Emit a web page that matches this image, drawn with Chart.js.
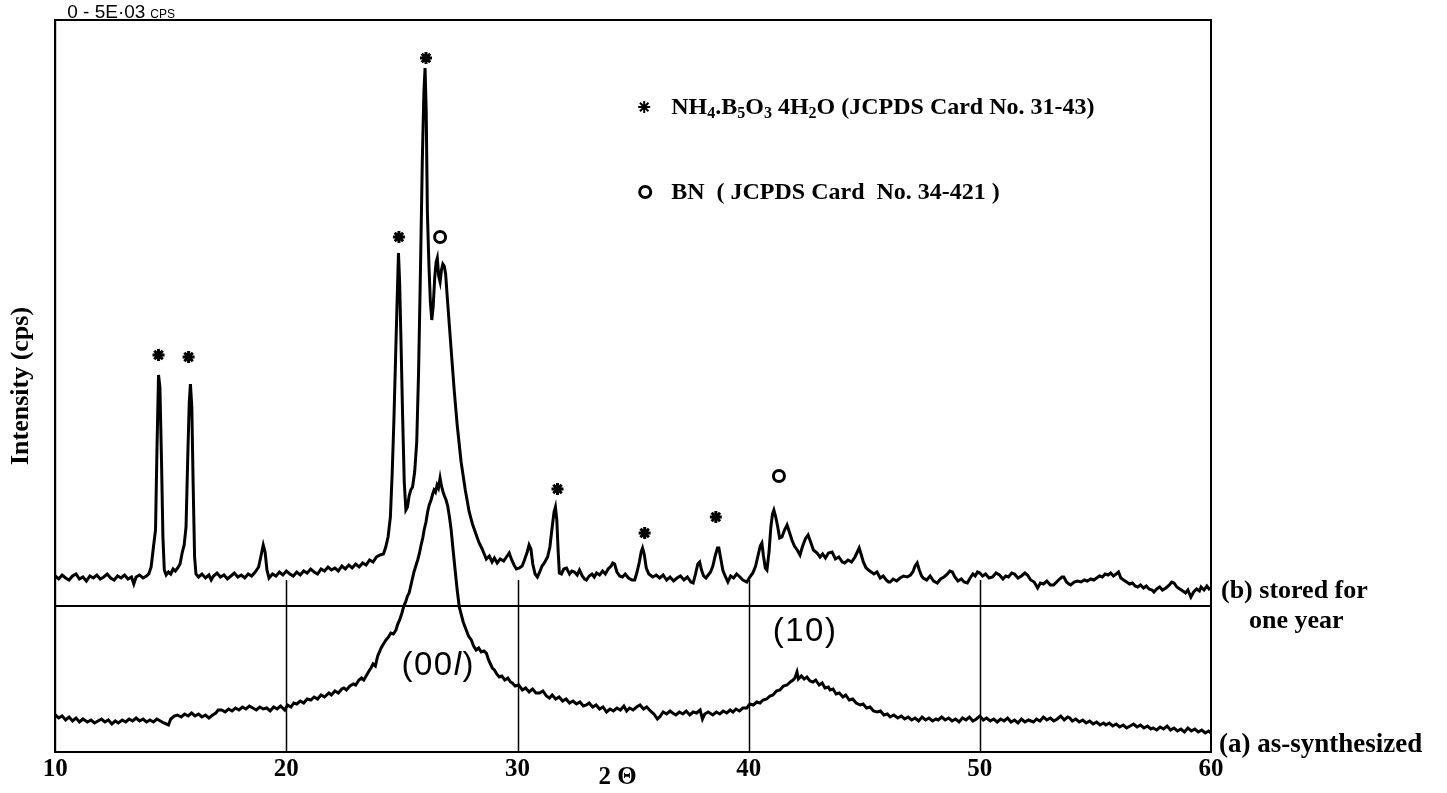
<!DOCTYPE html>
<html>
<head>
<meta charset="utf-8">
<script src="https://cdn.jsdelivr.net/npm/chart.js@4.4.1/dist/chart.umd.min.js"></script>
<style>
  html, body { margin: 0; padding: 0; background: #fff; }
  #wrap { width: 1447px; height: 793px; position: relative; }
</style>
</head>
<body>
<div id="wrap"><canvas id="xrdChart"></canvas></div>
<script>
// 2-theta tick labels
const xTickValues = [10, 20, 30, 40, 50, 60];

// (b) stored for one year : [2theta, counts (arb. units, offset trace)]
const bTheta = [10.00,10.15,10.30,10.45,10.60,10.75,10.90,11.05,11.20,11.35,11.50,11.65,11.80,11.95,12.10,12.25,12.40,12.55,12.70,12.85,
  13.00,13.15,13.30,13.40,13.50,13.65,13.80,13.95,14.05,14.15,14.25,14.34,14.40,14.47,14.53,14.60,14.66,14.72,14.80,14.90,
  15.00,15.10,15.20,15.30,15.40,15.50,15.58,15.66,15.74,15.80,15.85,15.91,15.97,16.03,16.09,16.20,16.35,16.50,16.65,16.75,
  16.85,17.00,17.15,17.30,17.45,17.60,17.75,17.90,18.05,18.20,18.35,18.50,18.65,18.80,18.92,19.00,19.08,19.16,19.25,19.40,
  19.55,19.70,19.85,20.00,20.15,20.30,20.45,20.60,20.75,20.90,21.05,21.20,21.35,21.50,21.65,21.80,21.95,22.10,22.25,22.40,
  22.55,22.70,22.85,23.00,23.15,23.30,23.45,23.60,23.75,23.90,24.05,24.20,24.30,24.40,24.50,24.58,24.65,24.72,24.79,24.85,
  24.90,24.96,25.03,25.10,25.17,25.24,25.31,25.38,25.46,25.55,25.64,25.72,25.80,25.88,25.95,26.00,26.05,26.10,26.17,26.23,
  26.29,26.35,26.42,26.48,26.53,26.59,26.65,26.71,26.77,26.83,26.89,26.96,27.04,27.13,27.26,27.39,27.56,27.74,27.91,28.05,
  28.20,28.34,28.45,28.56,28.65,28.78,28.90,29.00,29.12,29.25,29.40,29.52,29.64,29.75,29.85,29.95,30.08,30.20,30.30,30.42,
  30.50,30.58,30.66,30.76,30.86,30.96,31.06,31.16,31.30,31.40,31.50,31.58,31.64,31.70,31.76,31.81,31.90,32.00,32.12,32.25,
  32.35,32.46,32.58,32.68,32.80,32.90,32.98,33.10,33.22,33.32,33.42,33.55,33.68,33.80,33.92,34.05,34.12,34.20,34.30,34.42,
  34.54,34.66,34.80,34.95,35.07,35.17,35.27,35.35,35.41,35.48,35.57,35.68,35.85,36.00,36.15,36.30,36.45,36.60,36.75,36.90,
  37.05,37.20,37.35,37.50,37.60,37.70,37.80,37.88,37.96,38.05,38.15,38.25,38.35,38.45,38.55,38.65,38.71,38.78,38.88,38.98,
  39.10,39.22,39.35,39.48,39.62,39.75,39.92,40.05,40.18,40.30,40.42,40.50,40.57,40.64,40.72,40.79,40.88,40.96,41.03,41.09,
  41.16,41.25,41.34,41.44,41.55,41.66,41.76,41.87,41.98,42.10,42.22,42.32,42.45,42.57,42.68,42.80,42.96,43.09,43.20,43.32,
  43.45,43.61,43.75,43.90,44.05,44.15,44.30,44.45,44.60,44.70,44.78,44.86,44.96,45.08,45.18,45.30,45.42,45.55,45.69,45.82,
  45.95,46.05,46.12,46.25,46.40,46.55,46.70,46.86,47.00,47.10,47.20,47.29,47.38,47.48,47.55,47.70,47.85,48.00,48.16,48.30,
  48.45,48.60,48.70,48.81,48.92,49.05,49.20,49.32,49.46,49.58,49.70,49.80,49.90,50.00,50.12,50.25,50.40,50.55,50.70,50.85,
  51.00,51.12,51.24,51.38,51.50,51.65,51.80,51.95,52.06,52.20,52.35,52.50,52.62,52.75,52.90,53.05,53.19,53.32,53.45,53.55,
  53.63,53.75,53.85,53.93,54.08,54.22,54.38,54.52,54.65,54.80,54.93,55.05,55.18,55.30,55.42,55.55,55.66,55.78,55.90,56.00,
  56.10,56.22,56.35,56.48,56.60,56.72,56.83,56.95,57.08,57.20,57.32,57.45,57.53,57.65,57.78,57.90,58.05,58.20,58.30,58.40,
  58.52,58.65,58.78,58.90,59.00,59.13,59.25,59.38,59.50,59.57,59.70,59.82,59.92,60.00];
const bCounts = [176,173,177,174,172,176,178,173,175,171,176,174,177,173,175,178,174,172,176,174,
  177,173,175,168,175,177,174,176,178,185,205,222,300,377,365,290,215,182,177,180,
  178,183,181,184,188,200,207,225,300,350,368,345,265,195,178,175,178,174,177,172,
  176,179,175,177,173,176,179,175,177,174,178,176,180,185,198,207,200,182,174,178,
  176,180,177,181,178,176,180,177,181,179,183,180,178,183,181,185,182,184,181,186,
  183,187,184,188,185,189,187,192,190,195,197,198,205,215,235,280,330,390,450,499,
  470,410,335,270,242,245,256,262,265,280,310,380,480,590,660,684,640,540,485,450,
  432,445,475,490,494,476,470,482,488,486,478,455,430,402,362,327,290,262,240,228,
  218,209,204,198,193,196,190,194,189,193,191,195,199,192,187,183,184,186,192,200,
  207,203,188,178,175,180,186,189,195,205,225,240,245,232,200,179,178,183,184,178,
  181,180,177,182,176,173,172,176,178,175,179,177,181,178,183,186,189,188,180,176,
  175,178,174,172,172,180,190,200,204,198,184,178,175,177,174,177,172,175,171,174,
  176,172,175,170,169,178,188,190,182,176,174,177,180,186,196,204,204,195,182,176,
  170,176,174,178,175,172,170,175,179,186,198,206,209,196,184,182,200,225,238,242,
  236,226,214,215,222,227,220,212,206,202,197,205,213,217,210,202,199,195,198,194,
  199,200,193,195,190,189,192,190,195,200,204,198,190,184,182,180,178,180,174,176,
  172,170,170,173,171,174,176,175,177,180,186,189,182,176,174,172,176,171,169,173,
  175,178,181,180,175,171,173,170,169,174,178,176,180,179,176,178,174,175,179,177,
  173,176,175,179,178,174,176,179,177,172,170,164,169,168,171,167,167,170,173,175,
  175,170,168,167,170,171,170,172,171,173,172,174,176,175,178,177,179,176,178,180,
  174,172,170,168,169,166,165,167,164,166,163,162,160,163,165,162,164,167,170,169,
  165,163,161,159,162,155,160,163,161,165,162,166,163,164];

// (a) as-synthesized
const aTheta = [10.00,10.15,10.30,10.45,10.60,10.75,10.90,11.05,11.20,11.39,11.55,11.70,11.85,12.00,12.15,12.30,12.45,12.60,12.73,12.90,
  13.05,13.20,13.35,13.50,13.65,13.80,13.95,14.10,14.25,14.40,14.55,14.70,14.90,15.00,15.15,15.29,15.45,15.60,15.75,15.90,
  16.05,16.20,16.35,16.50,16.65,16.81,16.95,17.05,17.20,17.35,17.50,17.65,17.80,17.95,18.10,18.25,18.40,18.55,18.70,18.85,
  19.00,19.15,19.30,19.45,19.60,19.75,19.93,20.05,20.20,20.32,20.45,20.60,20.75,20.90,21.06,21.20,21.35,21.50,21.65,21.84,
  21.95,22.10,22.25,22.40,22.49,22.60,22.75,22.90,23.00,23.14,23.25,23.35,23.50,23.60,23.66,23.75,23.85,23.95,24.01,24.10,
  24.20,24.31,24.42,24.52,24.63,24.74,24.82,24.90,25.00,25.08,25.16,25.24,25.31,25.38,25.44,25.52,25.60,25.68,25.74,25.82,
  25.90,25.96,26.04,26.11,26.18,26.26,26.33,26.39,26.45,26.52,26.58,26.65,26.71,26.78,26.84,26.91,26.98,27.05,27.13,27.20,
  27.30,27.39,27.48,27.56,27.65,27.78,27.88,28.00,28.10,28.21,28.32,28.43,28.55,28.65,28.75,28.83,28.91,29.00,29.10,29.21,
  29.32,29.45,29.58,29.70,29.77,29.90,30.05,30.21,30.35,30.50,30.65,30.80,30.95,31.10,31.25,31.38,31.50,31.65,31.80,31.95,
  32.10,32.25,32.40,32.55,32.70,32.85,32.98,33.10,33.25,33.40,33.55,33.70,33.85,34.00,34.15,34.30,34.45,34.60,34.72,34.85,
  35.00,35.15,35.30,35.45,35.59,35.75,35.90,36.05,36.15,36.30,36.45,36.60,36.71,36.85,37.00,37.15,37.30,37.45,37.60,37.75,
  37.90,38.00,38.10,38.25,38.45,38.60,38.75,38.90,39.05,39.20,39.32,39.45,39.60,39.75,39.92,40.05,40.20,40.35,40.49,40.62,
  40.78,40.92,41.05,41.20,41.35,41.50,41.66,41.80,41.92,42.00,42.09,42.15,42.28,42.40,42.52,42.65,42.78,42.90,43.05,43.18,
  43.30,43.45,43.52,43.65,43.78,43.92,44.08,44.20,44.35,44.50,44.65,44.82,44.95,45.10,45.25,45.40,45.56,45.70,45.85,46.00,
  46.12,46.28,46.45,46.60,46.75,46.90,47.05,47.20,47.35,47.50,47.65,47.80,47.95,48.10,48.20,48.35,48.50,48.65,48.80,48.95,
  49.10,49.25,49.40,49.55,49.70,49.85,50.00,50.15,50.29,50.45,50.60,50.75,50.90,51.05,51.20,51.35,51.50,51.65,51.80,51.95,
  52.10,52.32,52.45,52.60,52.75,52.90,53.05,53.20,53.35,53.50,53.65,53.80,53.89,54.00,54.15,54.30,54.45,54.60,54.75,54.90,
  55.05,55.20,55.35,55.45,55.60,55.75,55.90,56.05,56.20,56.35,56.50,56.65,56.80,56.95,57.10,57.25,57.40,57.49,57.65,57.80,
  57.95,58.10,58.25,58.40,58.55,58.70,58.85,59.00,59.15,59.30,59.45,59.60,59.75,59.90,60.00];
const aCounts = [37,34,36,32,35,31,34,30,33,30,32,29,31,33,30,32,28,31,29,32,
  30,33,31,34,31,33,30,32,30,33,31,29,27,33,36,37,35,38,36,39,
  36,38,35,37,34,37,39,42,42,40,43,41,44,42,45,43,46,44,42,45,
  43,44,41,45,43,46,42,47,45,49,48,51,49,53,52,55,53,57,55,59,
  57,61,59,63,64,62,66,68,67,72,74,72,78,82,84,88,86,96,99,104,
  108,112,115,119,118,122,128,132,139,146,150,156,159,166,172,180,186,192,197,206,
  214,222,230,240,247,252,258,262,260,267,264,274,266,260,256,252,246,236,222,205,
  182,162,145,138,130,122,116,112,106,102,104,100,101,99,92,88,84,82,78,75,
  76,72,74,70,69,66,67,62,64,60,63,59,59,61,56,54,57,53,55,51,
  53,49,51,48,50,46,47,49,45,47,43,45,40,43,41,44,42,46,41,44,
  42,45,47,43,45,41,38,33,35,40,38,41,39,37,40,38,41,37,40,39,
  42,33,38,40,37,40,38,41,39,42,40,43,41,44,44,48,47,50,49,52,
  53,56,57,61,62,66,67,70,72,74,80,73,76,73,75,71,70,72,67,69,
  64,65,62,63,58,59,55,57,52,53,49,47,48,44,45,41,40,41,37,38,
  35,37,34,36,33,35,32,34,31,35,32,34,31,33,32,35,32,34,31,33,
  30,34,32,35,31,33,36,32,34,31,33,30,33,31,34,30,32,29,33,30,
  32,30,33,31,35,32,34,31,33,36,32,35,34,31,33,30,32,29,31,28,
  30,27,29,27,29,26,28,25,27,24,26,28,25,27,24,26,23,24,22,25,
  23,26,22,24,21,23,20,24,21,23,20,22,19,21,19];

// level of the line splitting the two traces, and top of the guide lines
const splitLevel = 146;
const guideTop = 172;

// peak markers: NH4B5O8.4H2O (*) and BN (o)
const starTheta = [14.47, 15.77, 24.87, 26.04, 31.73, 35.50, 38.58];
const starLevel = [397, 395, 515, 694, 263, 219, 235];
const bnTheta = [26.65, 41.31];
const bnLevel = [515, 276];

// reflection labels on trace (a)
const hklText = [['(00', 'l', ')'], ['(10)']];
const hklTheta = [26.57, 42.44];
const hklLevel = [86, 120];

function pts(xs, ys) {
  return xs.map((x, i) => ({x: x, y: ys[i]}));
}

const serif = '"Liberation Serif", "DejaVu Serif", serif';
const sans = '"Liberation Sans", Arial, sans-serif';

function drawParts(ctx, parts, x, y, size) {
  // parts: [text, 'n' | 'sub']
  parts.forEach(p => {
    if (p[1] === 'sub') {
      ctx.font = 'bold ' + Math.round(size * 0.68) + 'px ' + serif;
      ctx.fillText(p[0], x, y + 6);
    } else {
      ctx.font = 'bold ' + size + 'px ' + serif;
      ctx.fillText(p[0], x, y);
    }
    x += ctx.measureText(p[0]).width;
  });
}

const annotations = {
  id: 'annotations',
  beforeDatasetsDraw(chart) {
    const ctx = chart.ctx, xs = chart.scales.x, ys = chart.scales.y, area = chart.chartArea;
    ctx.save();
    ctx.strokeStyle = '#000';
    ctx.lineWidth = 1.5;
    xTickValues.slice(1, -1).forEach(v => {
      const px = Math.round(xs.getPixelForValue(v)) + 0.5;
      ctx.beginPath();
      ctx.moveTo(px, ys.getPixelForValue(guideTop));
      ctx.lineTo(px, area.bottom);
      ctx.stroke();
    });
    ctx.restore();
  },
  afterDraw(chart) {
    const ctx = chart.ctx, xs = chart.scales.x, ys = chart.scales.y, area = chart.chartArea;
    ctx.save();
    // frame
    ctx.strokeStyle = '#000';
    ctx.lineWidth = 2;
    ctx.strokeRect(area.left, area.top, area.right - area.left, area.bottom - area.top);

    // full-scale note
    ctx.fillStyle = '#000';
    ctx.textBaseline = 'alphabetic';
    ctx.font = '19px ' + sans;
    ctx.fillText('0 - 5E\u00b703', area.left + 12, area.top - 2);
    const w = ctx.measureText('0 - 5E\u00b703').width;
    ctx.font = '12px ' + sans;
    ctx.fillText('CPS', area.left + 17 + w, area.top - 2);

    // legend
    const lx = area.left + 589;
    Chart.helpers.drawPoint(ctx, {pointStyle: 'star', radius: 6, borderWidth: 3}, lx, area.top + 87);
    ctx.strokeStyle = '#000';
    ctx.lineWidth = 3;
    ctx.beginPath();
    ctx.arc(lx + 1, area.top + 172, 5.5, 0, Math.PI * 2);
    ctx.stroke();
    ctx.textBaseline = 'middle';
    drawParts(ctx, [['NH', 'n'], ['4', 'sub'], ['.B', 'n'], ['5', 'sub'], ['O', 'n'], ['3', 'sub'],
      [' 4H', 'n'], ['2', 'sub'], ['O (JCPDS Card No. 31-43)', 'n']], lx + 27, area.top + 88, 24);
    drawParts(ctx, [['BN  ( JCPDS Card  No. 34-421 )', 'n']], lx + 27, area.top + 173, 24);

    // trace names
    ctx.font = 'bold 26px ' + serif;
    const bEnd = ys.getPixelForValue(bCounts[bCounts.length - 1]);
    const aEnd = ys.getPixelForValue(aCounts[aCounts.length - 1]);
    ctx.fillText('(b) stored for', area.right + 10, bEnd + 3);
    ctx.fillText('one year', area.right + 38, bEnd + 33);
    ctx.font = 'bold 27px ' + serif;
    ctx.fillText('(a) as-synthesized', area.right + 8, aEnd + 12);

    // reflection labels
    ctx.letterSpacing = '1.5px';
    const hklFont = j => (j === 1 ? 'italic ' : '') + '33px ' + sans;
    hklText.forEach((parts, i) => {
      let total = 0;
      parts.forEach((t, j) => {
        ctx.font = hklFont(parts.length > 1 ? j : 0);
        total += ctx.measureText(t).width;
      });
      let px = xs.getPixelForValue(hklTheta[i]) - total / 2;
      const py = ys.getPixelForValue(hklLevel[i]);
      parts.forEach((t, j) => {
        ctx.font = hklFont(parts.length > 1 ? j : 0);
        ctx.fillText(t, px, py);
        px += ctx.measureText(t).width;
      });
    });
    ctx.restore();
  }
};

const data = {
  datasets: [
    {
      label: '(b) stored for one year',
      data: pts(bTheta, bCounts),
      borderColor: '#000',
      borderWidth: 3,
      pointRadius: 0,
      tension: 0
    },
    {
      label: '(a) as-synthesized',
      data: pts(aTheta, aCounts),
      borderColor: '#000',
      borderWidth: 3,
      pointRadius: 0,
      tension: 0
    },
    {
      label: 'split',
      data: [{x: xTickValues[0], y: splitLevel}, {x: xTickValues[xTickValues.length - 1], y: splitLevel}],
      borderColor: '#000',
      borderWidth: 2,
      pointRadius: 0
    },
    {
      label: 'NH4B5O8.4H2O',
      data: pts(starTheta, starLevel),
      showLine: false,
      pointStyle: 'star',
      pointRadius: 6,
      borderWidth: 3,
      borderColor: '#000'
    },
    {
      label: 'BN',
      data: pts(bnTheta, bnLevel),
      showLine: false,
      pointStyle: 'circle',
      pointRadius: 5.5,
      borderWidth: 3,
      borderColor: '#000',
      backgroundColor: '#fff'
    }
  ]
};

const options = {
  responsive: true,
  maintainAspectRatio: false,
  animation: false,
  layout: {
    padding: {left: 6, right: 236, top: 20, bottom: 0}
  },
  plugins: {
    legend: {display: false},
    tooltip: {enabled: false}
  },
  scales: {
    x: {
      type: 'linear',
      min: 10,
      max: 60,
      afterBuildTicks: scale => {
        scale.ticks = xTickValues.map(v => ({value: v}));
      },
      grid: {display: false, drawTicks: false},
      border: {display: true, color: '#000', width: 2},
      ticks: {
        color: '#000',
        padding: 3,
        autoSkip: false,
        maxRotation: 0,
        font: {family: serif, size: 25, weight: 'bold'}
      },
      title: {
        display: true,
        text: '2 \u0398     ',
        color: '#000',
        padding: {top: -25, bottom: 0},
        font: {family: serif, size: 25, weight: 'bold'}
      }
    },
    y: {
      min: 0,
      max: 732,
      grid: {display: false, drawTicks: false},
      border: {display: true, color: '#000', width: 2},
      ticks: {display: false},
      title: {
        display: true,
        text: 'Intensity (cps)',
        color: '#000',
        padding: {top: 0, bottom: 18},
        font: {family: serif, size: 26, weight: 'bold'}
      }
    }
  }
};

const config = {
  type: 'line',
  data: data,
  options: options,
  plugins: [annotations]
};

const xrdCanvas = document.getElementById('xrdChart');
const xrdChart = new Chart(xrdCanvas, config);
</script>
</body>
</html>
